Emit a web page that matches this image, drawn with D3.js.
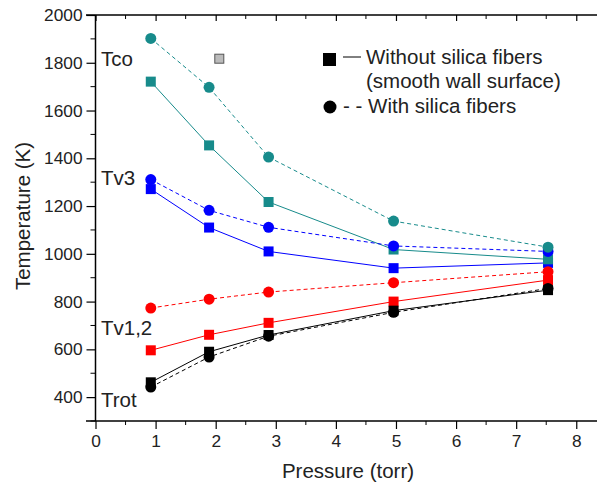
<!DOCTYPE html>
<html><head><meta charset="utf-8">
<script src="https://cdn.jsdelivr.net/npm/d3@7"></script>
<style>body{margin:0;background:#fff}svg{display:block}text{font-family:Arial,"Liberation Sans",sans-serif;fill:#222}</style>
</head><body><svg id="c" width="597" height="487"></svg>
<script>
const pressure = [0.92, 1.89, 2.88, 4.96, 7.53];
const tcoSmooth = [1721, 1454, 1217, 1018, 977];
const tcoFiber = [1902, 1697, 1405, 1137, 1028];
const tv3Smooth = [1271, 1110, 1010, 940, 962];
const tv3Fiber = [1311, 1182, 1111, 1033, 1010];
const tv12Smooth = [596, 661, 711, 800, 890];
const tv12Fiber = [773, 810, 840, 879, 925];
const trotSmooth = [462, 590, 660, 762, 848];
const trotFiber = [442, 568, 655, 755, 855];
const strayPoint = [2.06, 1817];
const xTicks = [0, 1, 2, 3, 4, 5, 6, 7, 8];
const yTicks = [400, 600, 800, 1000, 1200, 1400, 1600, 1800, 2000];
const seriesColors = {Tco: "#178b8b", Tv3: "#0000ff", Tv12: "#ff0000", Trot: "#000000"};
const seriesLabels = [["Tco", 1786], ["Tv3", 1288], ["Tv1,2", 660], ["Trot", 359]];

const svg = d3.select("#c");
const x = d3.scaleLinear().domain([0, 8.345]).range([95.5, 597]);
const y = d3.scaleLinear().domain([300, 2000]).range([421, 15]);

// drawing order: red, black, blue, teal
const series = [
  {v: tv12Smooth, c: seriesColors.Tv12, dash: null, m: "sq"},
  {v: trotSmooth, c: seriesColors.Trot, dash: null, m: "sq"},
  {v: tv3Smooth, c: seriesColors.Tv3, dash: null, m: "sq"},
  {v: tcoSmooth, c: seriesColors.Tco, dash: null, m: "sq"},
  {v: tv12Fiber, c: seriesColors.Tv12, dash: "4,3", m: "ci"},
  {v: trotFiber, c: seriesColors.Trot, dash: "4,3", m: "ci"},
  {v: tv3Fiber, c: seriesColors.Tv3, dash: "4,3", m: "ci"},
  {v: tcoFiber, c: seriesColors.Tco, dash: "4,3", m: "ci"}
];

// axes
const bottomAx = svg.append("g").attr("transform", "translate(0,421)")
  .call(d3.axisBottom(x).tickValues(xTicks).tickSize(8).tickPadding(6).tickFormat(d3.format("d")));
bottomAx.append("g").selectAll("line").data(d3.range(0.5, 8.4, 1)).join("line")
  .attr("x1", d => x(d)).attr("x2", d => x(d)).attr("y1", 0).attr("y2", 4).attr("stroke", "#000");
const topAx = svg.append("g").attr("transform", "translate(0,15)")
  .call(d3.axisBottom(x).tickValues(xTicks).tickSize(6).tickFormat(""));
topAx.append("g").selectAll("line").data(d3.range(0.5, 8.4, 1)).join("line")
  .attr("x1", d => x(d)).attr("x2", d => x(d)).attr("y1", 0).attr("y2", 4).attr("stroke", "#000");
topAx.append("line").attr("x1", 86).attr("x2", 597).attr("stroke", "#000").attr("stroke-width", 1.5);
const leftAx = svg.append("g").attr("transform", "translate(95.5,0)")
  .call(d3.axisLeft(y).tickValues(yTicks).tickSize(9).tickPadding(4).tickFormat(d3.format("d")));
leftAx.append("g").selectAll("line").data(d3.range(300, 2000, 200)).join("line")
  .attr("y1", d => y(d)).attr("y2", d => y(d)).attr("x1", 0).attr("x2", -5).attr("stroke", "#000");
[bottomAx, topAx, leftAx].forEach(g => {
  g.select(".domain").attr("stroke", "#000").attr("stroke-width", 1.5);
  g.selectAll(".tick line").attr("stroke", "#000").attr("stroke-width", 1.2);
  g.selectAll("text").attr("font-size", 17.3).attr("fill", "#222").attr("font-family", "Arial, 'Liberation Sans', sans-serif");
});
bottomAx.select(".domain").attr("d", "M86,0H597");
topAx.select(".domain").remove();
leftAx.select(".domain").attr("d", "M0,15V421");

// lines
const line = d3.line().x((d, i) => x(pressure[i])).y(d => y(d));
series.forEach(s => {
  svg.append("path").datum(s.v).attr("d", line).attr("fill", "none")
    .attr("stroke", s.c).attr("stroke-width", 1).attr("stroke-dasharray", s.dash);
});
// markers
series.forEach(s => {
  const g = svg.append("g");
  if (s.m === "sq") {
    g.selectAll("rect").data(s.v).join("rect")
      .attr("x", (d, i) => x(pressure[i]) - 5).attr("y", d => y(d) - 5)
      .attr("width", 10).attr("height", 10).attr("fill", s.c);
  } else {
    g.selectAll("circle").data(s.v).join("circle")
      .attr("cx", (d, i) => x(pressure[i])).attr("cy", d => y(d)).attr("r", 5.5).attr("fill", s.c);
  }
});
svg.append("rect").attr("x", x(strayPoint[0]) - 4.5).attr("y", y(strayPoint[1]) - 4.5)
  .attr("width", 9).attr("height", 9).attr("fill", "#bbb").attr("stroke", "#555").attr("stroke-width", 1);

// series labels
seriesLabels.forEach(([t, v]) => {
  svg.append("text").attr("x", 101).attr("y", y(v)).attr("font-size", 20.5).text(t);
});

// legend
svg.append("rect").attr("x", 323).attr("y", 53).attr("width", 13).attr("height", 13).attr("fill", "#000");
svg.append("line").attr("x1", 343).attr("x2", 361).attr("y1", 57).attr("y2", 57).attr("stroke", "#000").attr("stroke-width", 1);
svg.append("text").attr("x", 366).attr("y", 64).attr("font-size", 20.5).text("Without silica fibers");
svg.append("text").attr("x", 366).attr("y", 88).attr("font-size", 20.5).text("(smooth wall surface)");
svg.append("circle").attr("cx", 330).attr("cy", 107).attr("r", 6.5).attr("fill", "#000");
svg.append("text").attr("x", 343).attr("y", 113).attr("font-size", 20.5).text("- - With silica fibers");

// axis titles
svg.append("text").attr("x", 348).attr("y", 478).attr("text-anchor", "middle").attr("font-size", 20.5).text("Pressure (torr)");
svg.append("text").attr("transform", "translate(30,216) rotate(-90)").attr("text-anchor", "middle").attr("font-size", 20.5).text("Temperature (K)");
</script></body></html>
